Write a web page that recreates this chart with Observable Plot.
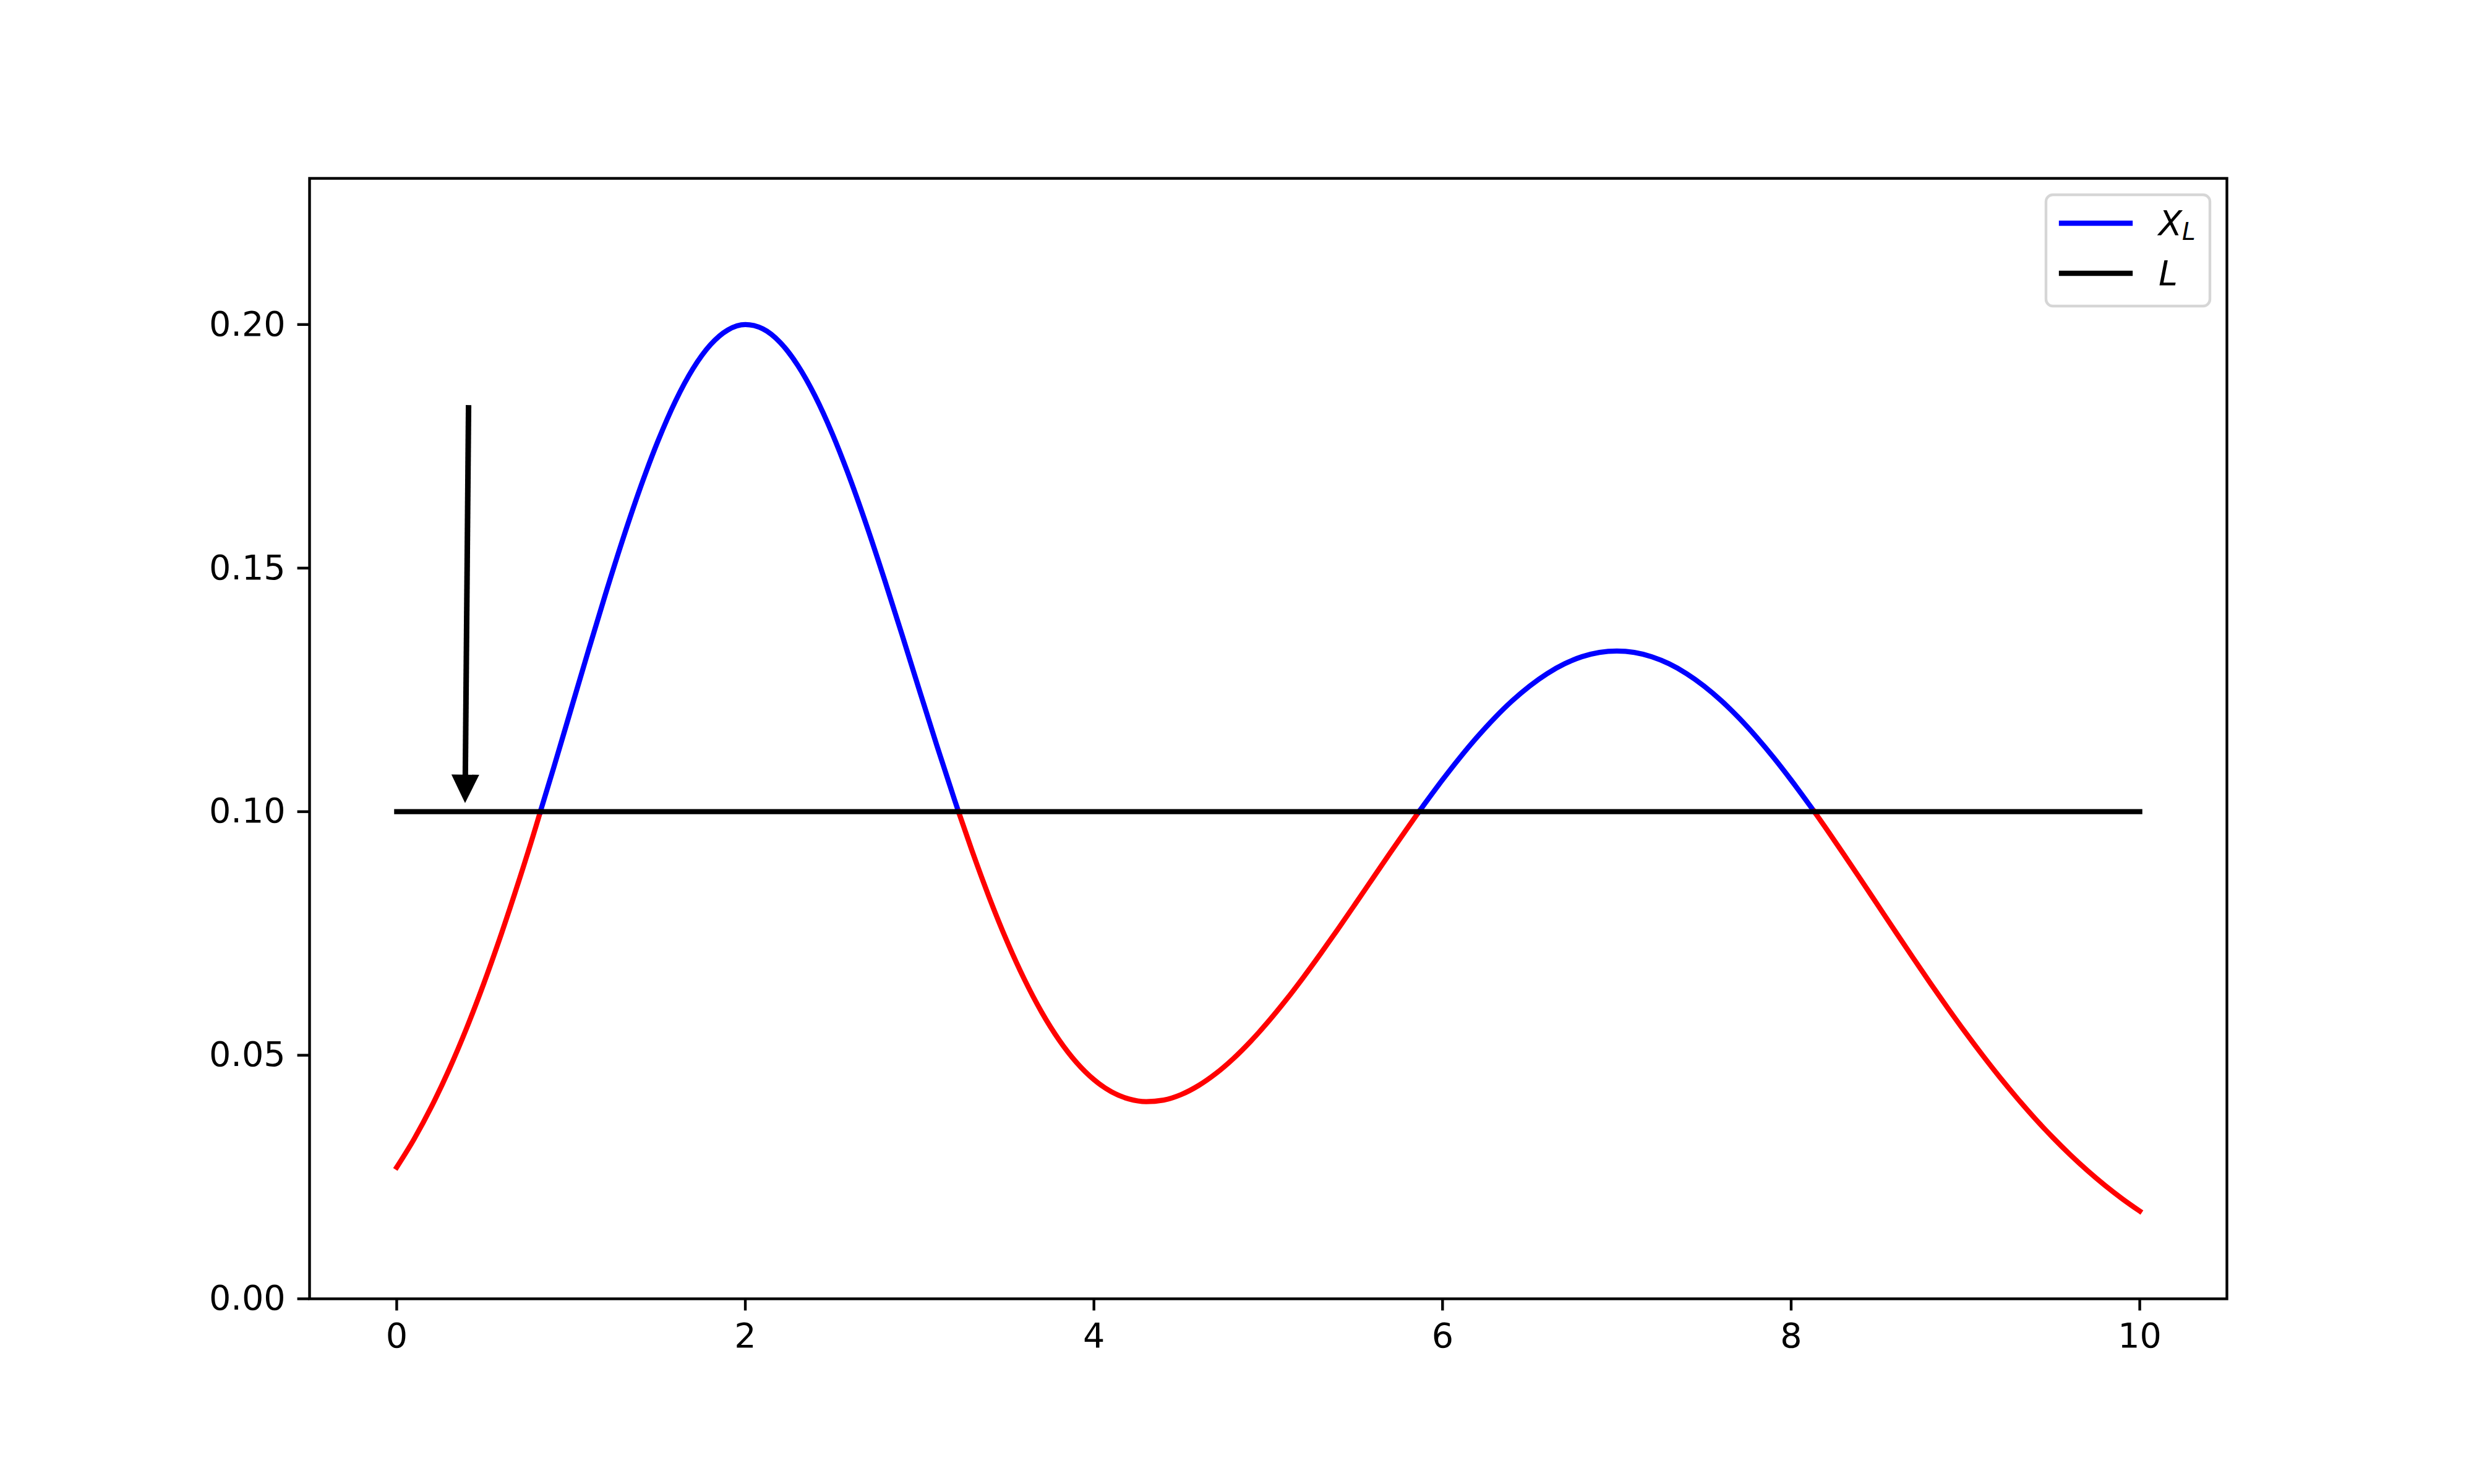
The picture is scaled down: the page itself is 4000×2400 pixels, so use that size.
<!DOCTYPE html>
<html>
<head>
<meta charset="utf-8">
<script src="https://cdn.jsdelivr.net/npm/d3@7"></script>
<script src="https://cdn.jsdelivr.net/npm/@observablehq/plot@0.6"></script>
<style>
  html, body { margin: 0; padding: 0; background: white; }
</style>
</head>
<body>
<div id="chart"></div>
<script>
// ---- data ----
const xs = [0.0, 0.1, 0.2, 0.3, 0.4, 0.5, 0.6, 0.7, 0.8, 0.9,
  1.0, 1.1, 1.2, 1.3, 1.4, 1.5, 1.6, 1.7, 1.8, 1.9,
  2.0, 2.1, 2.2, 2.3, 2.4, 2.5, 2.6, 2.7, 2.8, 2.9,
  3.0, 3.1, 3.2, 3.3, 3.4, 3.5, 3.6, 3.7, 3.8, 3.9,
  4.0, 4.1, 4.2, 4.3, 4.4, 4.5, 4.6, 4.7, 4.8, 4.9,
  5.0, 5.1, 5.2, 5.3, 5.4, 5.5, 5.6, 5.7, 5.8, 5.9,
  6.0, 6.1, 6.2, 6.3, 6.4, 6.5, 6.6, 6.7, 6.8, 6.9,
  7.0, 7.1, 7.2, 7.3, 7.4, 7.5, 7.6, 7.7, 7.8, 7.9,
  8.0, 8.1, 8.2, 8.3, 8.4, 8.5, 8.6, 8.7, 8.8, 8.9,
  9.0, 9.1, 9.2, 9.3, 9.4, 9.5, 9.6, 9.7, 9.8, 9.9, 10.0];
const ys = [0.02700, 0.03281, 0.03948, 0.04703, 0.05547, 0.06477, 0.07488, 0.08570, 0.09712, 0.10896,
  0.12103, 0.13310, 0.14492, 0.15622, 0.16674, 0.17619, 0.18434, 0.19095, 0.19585, 0.19889,
  0.19999, 0.19912, 0.19632, 0.19167, 0.18534, 0.17751, 0.16841, 0.15831, 0.14748, 0.13622,
  0.12478, 0.11345, 0.10247, 0.09203, 0.08233, 0.07350, 0.06565, 0.05885, 0.05314, 0.04852,
  0.04499, 0.04251, 0.04103, 0.04048, 0.04080, 0.04192, 0.04377, 0.04626, 0.04932, 0.05289,
  0.05689, 0.06125, 0.06592, 0.07083, 0.07590, 0.08109, 0.08633, 0.09156, 0.09671, 0.10173,
  0.10655, 0.11112, 0.11538, 0.11928, 0.12277, 0.12580, 0.12834, 0.13035, 0.13181, 0.13269,
  0.13298, 0.13269, 0.13180, 0.13035, 0.12834, 0.12580, 0.12276, 0.11926, 0.11535, 0.11108,
  0.10648, 0.10163, 0.09657, 0.09135, 0.08603, 0.08066, 0.07529, 0.06997, 0.06473, 0.05962,
  0.05467, 0.04991, 0.04536, 0.04105, 0.03697, 0.03316, 0.02961, 0.02632, 0.02329, 0.02052, 0.01800];
const L = 0.1;                                   // threshold level
const crossings = [0.824, 3.223, 5.865, 8.133];  // where the curve meets L
const lineLX = [0, 10];                          // extent of the L line
const arrowX = [0.414, 0.394];                   // tail, tip
const arrowY = [0.1834, 0.1017];
const xTicks = [0, 2, 4, 6, 8, 10];
const yTicks = [0, 0.05, 0.10, 0.15, 0.20];
const legendLabels = ["X", "L"];
const legendSubs = ["L", ""];
const legendColors = ["blue", "black"];
const aboveColor = "blue", belowColor = "red";

// ---- build segments split at crossings ----
const pts = xs.map((x, i) => ({x, y: ys[i], cross: false}))
  .concat(crossings.map(x => ({x, y: L, cross: true})))
  .sort((a, b) => a.x - b.x);
const segPts = [];
let seg = 0;
for (const p of pts) {
  segPts.push({x: p.x, y: p.y, seg});
  if (p.cross) {
    seg++;
    segPts.push({x: p.x, y: p.y, seg});
  }
}
const segColor = {};
for (const p of segPts) {
  if (p.y !== L) segColor[p.seg] = p.y > L ? aboveColor : belowColor;
}
segPts.forEach(p => p.color = segColor[p.seg]);

const lineL = lineLX.map(x => ({x, y: L}));
const LW = 8.33;
const FS = 55.6;

function arrowMark(index, scales) {
  const g = d3.create("svg:g");
  const x0 = scales.x(arrowX[0]), y0 = scales.y(arrowY[0]);
  const x1 = scales.x(arrowX[1]), y1 = scales.y(arrowY[1]);
  const dx = x1 - x0, dy = y1 - y0, len = Math.hypot(dx, dy);
  const ux = dx / len, uy = dy / len, nx = -uy, ny = ux;
  const hl = 46, hw = 22.5;
  const bx = x1 - ux * hl, by = y1 - uy * hl;
  g.append("line").attr("x1", x0).attr("y1", y0).attr("x2", bx + ux * 2).attr("y2", by + uy * 2)
    .attr("stroke", "black").attr("stroke-width", 9).attr("stroke-linecap", "butt");
  g.append("path")
    .attr("d", `M${x1},${y1}L${bx + nx * hw},${by + ny * hw}L${bx - nx * hw},${by - ny * hw}Z`)
    .attr("fill", "black");
  return g.node();
}

function legendMark(index, scales, values, dims) {
  const g = d3.create("svg:g");
  const right = dims.width - dims.marginRight;
  const bw = 265, bh = 180;
  const bx = right - 27 - bw, by = dims.marginTop + 27;
  g.append("rect").attr("x", bx).attr("y", by).attr("width", bw).attr("height", bh)
    .attr("rx", 11).attr("fill", "white").attr("fill-opacity", 0.8)
    .attr("stroke", "#d6d6d6").attr("stroke-width", 4.4);
  legendLabels.forEach((lab, i) => {
    const ly = by + 46 + i * 81;
    g.append("line").attr("x1", bx + 25).attr("x2", bx + 136).attr("y1", ly).attr("y2", ly)
      .attr("stroke", legendColors[i]).attr("stroke-width", LW).attr("stroke-linecap", "square");
    const t = g.append("text").attr("x", bx + 182).attr("y", ly + 19)
      .attr("text-anchor", "start")
      .attr("font-family", "DejaVu Sans").attr("font-style", "italic")
      .attr("font-size", FS).attr("fill", "black");
    t.append("tspan").text(lab);
    if (legendSubs[i]) {
      t.append("tspan").attr("font-size", FS * 0.7).attr("dy", 8).text(legendSubs[i]);
    }
  });
  return g.node();
}

const chart = Plot.plot({
  width: 4000,
  height: 2400,
  marginLeft: 500,
  marginRight: 400,
  marginTop: 288,
  marginBottom: 300,
  x: {domain: [-0.5, 10.5]},
  y: {domain: [0, 0.23]},
  color: {type: "identity"},
  style: {fontFamily: "DejaVu Sans", fontSize: FS + "px", color: "black", background: "white"},
  marks: [
    Plot.line(segPts, {x: "x", y: "y", z: "seg", stroke: "color", strokeWidth: LW,
      curve: "monotone-x", strokeLinecap: "square"}),
    Plot.line(lineL, {x: "x", y: "y", stroke: "black", strokeWidth: LW, strokeLinecap: "square"}),
    arrowMark,
    Plot.axisX(xTicks, {label: null, tickSize: 19.4, tickPadding: 19.4, strokeWidth: 4.4, fontSize: FS,
      tickFormat: d3.format("d")}),
    Plot.axisY(yTicks, {label: null, tickSize: 19.4, tickPadding: 19.4, strokeWidth: 4.4, fontSize: FS,
      tickFormat: d3.format(".2f")}),
    Plot.frame({stroke: "black", strokeWidth: 4.4}),
    legendMark
  ]
});
document.getElementById("chart").appendChild(chart);
</script>
</body>
</html>
